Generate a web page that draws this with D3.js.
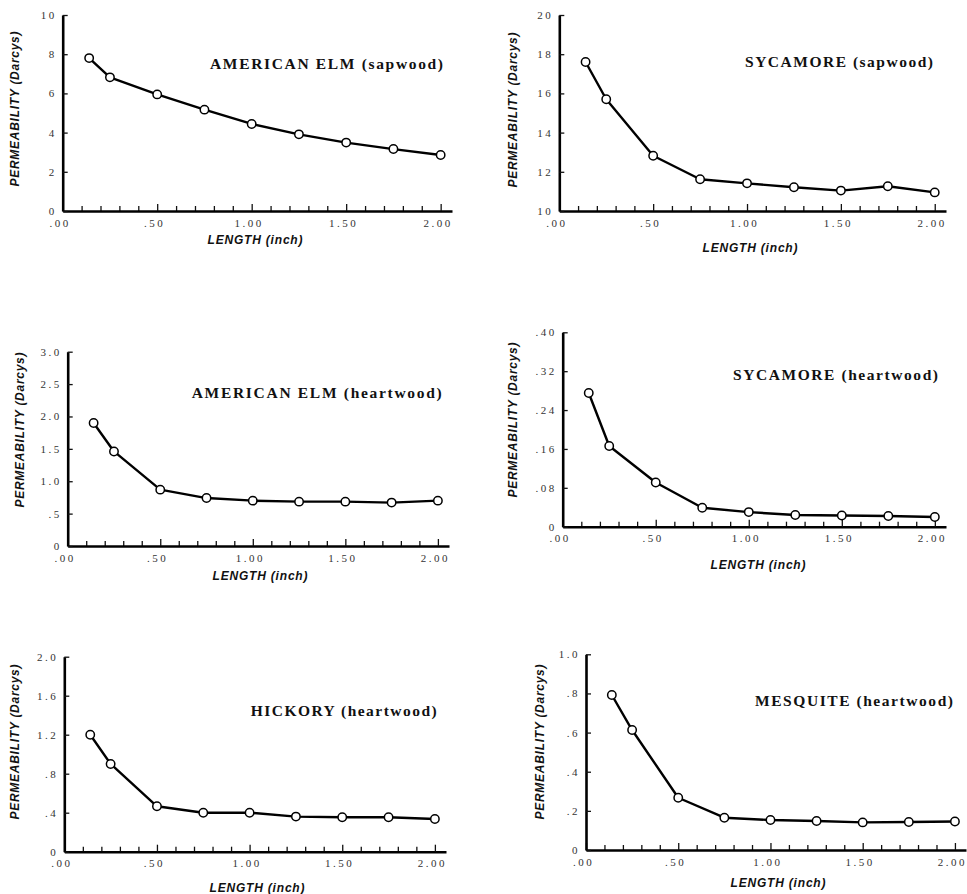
<!DOCTYPE html>
<html>
<head>
<meta charset="utf-8">
<script src="https://cdn.jsdelivr.net/npm/d3@7"></script>
<style>
  body { margin: 0; background: #fff; }
  .tickLabel text { font-family: "Liberation Serif", "DejaVu Serif", serif; font-size: 11px; fill: #333; letter-spacing: 2.5px; }
  .title { font-family: "Liberation Serif", "DejaVu Serif", serif; font-size: 15.5px; font-weight: bold; fill: #111; }
  .axisTitle { font-family: "Liberation Sans", Arial, sans-serif; font-size: 12px; font-weight: bold; font-style: italic; fill: #111; }
</style>
</head>
<body>
<script>
(function(){

    //lengths at which permeability was measured (inch)
    var lengths = [0.14, 0.25, 0.5, 0.75, 1.0, 1.25, 1.5, 1.75, 2.0];

    //series values (Darcys)
    var elmSap   = [7.8, 6.82, 5.95, 5.17, 4.44, 3.91, 3.49, 3.16, 2.86];
    var sycSap   = [17.6, 15.7, 12.82, 11.62, 11.41, 11.21, 11.04, 11.26, 10.95];
    var elmHeart = [1.90, 1.46, 0.87, 0.74, 0.70, 0.685, 0.685, 0.67, 0.70];
    var sycHeart = [0.275, 0.166, 0.091, 0.039, 0.030, 0.024, 0.023, 0.022, 0.020];
    var hicHeart = [1.20, 0.90, 0.466, 0.40, 0.40, 0.36, 0.353, 0.353, 0.335];
    var mesHeart = [0.792, 0.613, 0.267, 0.165, 0.153, 0.148, 0.141, 0.143, 0.146];

    //panel titles
    var titles = ["AMERICAN ELM (sapwood)", "SYCAMORE (sapwood)", "AMERICAN ELM (heartwood)",
                  "SYCAMORE (heartwood)", "HICKORY (heartwood)", "MESQUITE (heartwood)"];

    //y axis ticks and their labels
    var yTicks = [
        [0, 2, 4, 6, 8, 10],
        [10, 12, 14, 16, 18, 20],
        [0, 0.5, 1.0, 1.5, 2.0, 2.5, 3.0],
        [0, 0.08, 0.16, 0.24, 0.32, 0.40],
        [0, 0.4, 0.8, 1.2, 1.6, 2.0],
        [0, 0.2, 0.4, 0.6, 0.8, 1.0]
    ];
    var yTickLabels = [
        ["0", "2", "4", "6", "8", "10"],
        ["10", "12", "14", "16", "18", "20"],
        ["0", ".5", "1.0", "1.5", "2.0", "2.5", "3.0"],
        ["0", ".08", ".16", ".24", ".32", ".40"],
        ["0", ".4", ".8", "1.2", "1.6", "2.0"],
        ["0", ".2", ".4", ".6", ".8", "1.0"]
    ];

    //x axis ticks
    var xMajor = [0, 0.5, 1.0, 1.5, 2.0];
    var xMajorLabels = [".00", ".50", "1.00", "1.50", "2.00"];
    var xMinor = [0.1, 0.2, 0.3, 0.4, 0.6, 0.7, 0.8, 0.9, 1.1, 1.2, 1.3, 1.4, 1.6, 1.7, 1.8, 1.9];

    var series = [elmSap, sycSap, elmHeart, sycHeart, hicHeart, mesHeart];

    //panel frame layout (pixels)
    var layout = [
        {x0: 62.7, xEnd: 452, yTop: 15, yBot: 211, titleX: 443, titleY: 69, titleW: 233, yLabX: 15, yLabY: 109, xLabX: 255, xLabY: 244},
        {x0: 559.3, xEnd: 946, yTop: 15, yBot: 211, titleX: 933, titleY: 67, titleW: 188, yLabX: 513, yLabY: 110, xLabX: 750, xLabY: 252},
        {x0: 67.7, xEnd: 449, yTop: 351.7, yBot: 546, titleX: 441.7, titleY: 398, titleW: 250, yLabX: 20, yLabY: 430, xLabX: 260, xLabY: 580},
        {x0: 562.7, xEnd: 946, yTop: 332.3, yBot: 526.7, titleX: 938, titleY: 380, titleW: 205, yLabX: 513, yLabY: 420, xLabX: 758, xLabY: 569},
        {x0: 64.3, xEnd: 446, yTop: 656.7, yBot: 851.7, titleX: 436.7, titleY: 716, titleW: 186, yLabX: 15, yLabY: 742, xLabX: 257, xLabY: 892},
        {x0: 586, xEnd: 966, yTop: 654.3, yBot: 850, titleX: 953, titleY: 706, titleW: 198, yLabX: 540, yLabY: 742, xLabX: 778, xLabY: 887}
    ];

    var svg = d3.select("body")
        .append("svg")
        .attr("width", 967)
        .attr("height", 894);

    for (var i=0; i<series.length; i++){
        drawPanel(i);
    };

    function drawPanel(i){
        var L = layout[i],
            vals = series[i],
            ticks = yTicks[i],
            labels = yTickLabels[i];

        //x axis runs a little past 2.00
        var xScale = d3.scaleLinear()
            .domain([0, 2.06])
            .range([L.x0, L.xEnd]);

        var yScale = d3.scaleLinear()
            .domain([ticks[0], ticks[ticks.length - 1]])
            .range([L.yBot, L.yTop]);

        var g = svg.append("g").attr("class", "panel");

        //minor x ticks, pointing inward
        g.append("g")
            .attr("transform", "translate(0," + L.yBot + ")")
            .call(d3.axisBottom(xScale).tickValues(xMinor).tickSizeInner(-5).tickSizeOuter(0).tickFormat(""))
            .call(function(a){ a.select(".domain").remove(); });

        //major x ticks with labels
        g.append("g")
            .attr("class", "tickLabel")
            .attr("transform", "translate(0," + L.yBot + ")")
            .call(d3.axisBottom(xScale)
                .tickValues(xMajor)
                .tickSizeInner(-7)
                .tickSizeOuter(0)
                .tickPadding(8)
                .tickFormat(function(d, j){ return xMajorLabels[j]; }))
            .selectAll(".tick text")
            .attr("dx", -3);

        //y axis
        g.append("g")
            .attr("class", "tickLabel")
            .attr("transform", "translate(" + L.x0 + ",0)")
            .call(d3.axisLeft(yScale)
                .tickValues(ticks)
                .tickSizeInner(-5)
                .tickSizeOuter(0)
                .tickPadding(6)
                .tickFormat(function(d, j){ return labels[j]; }));

        g.selectAll(".domain").attr("stroke", "#000").attr("stroke-width", 2.6);
        g.selectAll(".tick line").attr("stroke", "#111").attr("stroke-width", 1.3);
        g.selectAll(".tickLabel .tick text").attr("fill", "#333");

        //data line
        var line = d3.line()
            .x(function(d, j){ return xScale(lengths[j]); })
            .y(function(d){ return yScale(d); });

        g.append("path")
            .datum(vals)
            .attr("d", line)
            .attr("fill", "none")
            .attr("stroke", "#000")
            .attr("stroke-width", 2.4)
            .attr("stroke-linejoin", "round");

        g.selectAll(".pt")
            .data(vals)
            .enter()
            .append("circle")
            .attr("class", "pt")
            .attr("cx", function(d, j){ return xScale(lengths[j]); })
            .attr("cy", function(d){ return yScale(d); })
            .attr("r", 4.2)
            .attr("fill", "#fff")
            .attr("stroke", "#000")
            .attr("stroke-width", 1.5);

        //panel title
        g.append("text")
            .attr("class", "title")
            .attr("x", L.titleX - L.titleW)
            .attr("y", L.titleY)
            .attr("textLength", L.titleW)
            .attr("lengthAdjust", "spacing")
            .text(titles[i]);

        //axis titles
        g.append("text")
            .attr("class", "axisTitle")
            .attr("transform", "translate(" + L.yLabX + "," + L.yLabY + ") rotate(-90)")
            .attr("text-anchor", "middle")
            .attr("dominant-baseline", "central")
            .attr("textLength", 155)
            .attr("lengthAdjust", "spacing")
            .text("PERMEABILITY (Darcys)");

        g.append("text")
            .attr("class", "axisTitle")
            .attr("x", L.xLabX)
            .attr("y", L.xLabY)
            .attr("text-anchor", "middle")
            .attr("textLength", 95)
            .attr("lengthAdjust", "spacing")
            .text("LENGTH (inch)");
    };
})();
</script>
</body>
</html>
